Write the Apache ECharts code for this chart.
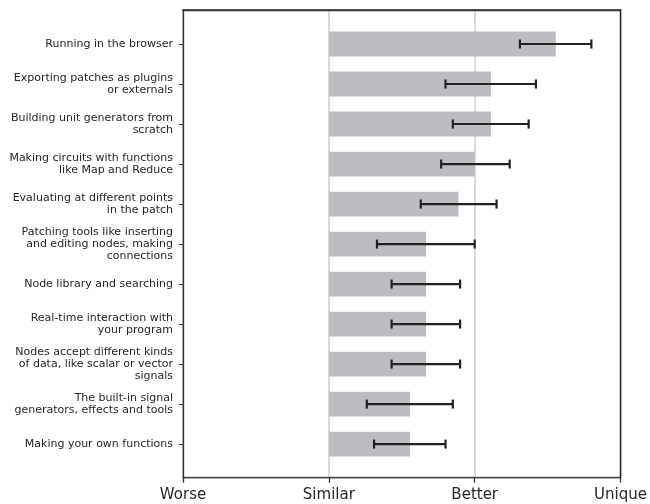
<!DOCTYPE html>
<html>
<head>
<meta charset="utf-8">
<script src="https://cdn.jsdelivr.net/npm/echarts@6/dist/echarts.min.js"></script>
<style>html,body{margin:0;padding:0;background:#fff}#c{width:650px;height:504px}</style>
</head>
<body>
<div id="c"></div>
<script>
const categories = [
  "Running in the browser",
  "Exporting patches as plugins\nor externals",
  "Building unit generators from\nscratch",
  "Making circuits with functions\nlike Map and Reduce",
  "Evaluating at different points\nin the patch",
  "Patching tools like inserting\nand editing nodes, making\nconnections",
  "Node library and searching",
  "Real-time interaction with\nyour program",
  "Nodes accept different kinds\nof data, like scalar or vector\nsignals",
  "The built-in signal\ngenerators, effects and tools",
  "Making your own functions"
];
const values  = [1.556, 1.111, 1.111, 1.0, 0.889, 0.667, 0.667, 0.667, 0.667, 0.556, 0.556];
const errLow  = [1.31, 0.80, 0.85, 0.77, 0.63, 0.33, 0.43, 0.43, 0.43, 0.26, 0.31];
const errHigh = [1.80, 1.42, 1.37, 1.24, 1.15, 1.00, 0.90, 0.90, 0.90, 0.85, 0.80];
const xTickLabels = ["Worse", "Similar", "Better", "Unique"];

const chart = echarts.init(document.getElementById('c'), null, {renderer: 'canvas'});
const font = 'DejaVu Sans';
const barData = values.map((v, i) => [i, v]);
const errData = values.map((v, i) => [i, errLow[i], errHigh[i]]);

chart.setOption({
  animation: false,
  grid: {left: 183, right: 27, top: 10, bottom: 26.3, show: true, borderColor: '#333', borderWidth: 1.3, backgroundColor: 'transparent'},
  xAxis: [{
    type: 'value', min: -1, max: 2, interval: 1,
    axisLine: {show: true, onZero: false, lineStyle: {color: '#4d4d4d', width: 1.3}},
    axisTick: {show: true, length: 5, lineStyle: {color: '#333', width: 1.3}},
    axisLabel: {fontFamily: font, fontSize: 15, color: '#262626', margin: 10,
      formatter: v => xTickLabels[Math.round(v) + 1] || ''},
    splitLine: {show: true, lineStyle: {color: '#cccccc', width: 1.5}}
  }, {
    type: 'value', min: -1, max: 2, position: 'top', z: 10,
    axisLine: {show: true, onZero: false, lineStyle: {color: '#333', width: 1.3}},
    axisTick: {show: false}, axisLabel: {show: false}, splitLine: {show: false}
  }],
  yAxis: [{
    type: 'value', min: -0.85, max: 10.84, inverse: true,
    axisLine: {show: true, onZero: false, lineStyle: {color: '#333', width: 1.3}},
    axisTick: {show: true, length: 4, customValues: categories.map((c, i) => i), lineStyle: {color: '#333', width: 1}},
    axisLabel: {fontFamily: font, fontSize: 11, color: '#262626', margin: 10, lineHeight: 12, align: 'right',
      customValues: categories.map((c, i) => i),
      formatter: v => categories[Math.round(v)] || ''},
    splitLine: {show: false}
  }, {
    type: 'value', min: -0.85, max: 10.84, inverse: true, position: 'right', z: 10,
    axisLine: {show: true, onZero: false, lineStyle: {color: '#222', width: 1.3}},
    axisTick: {show: false}, axisLabel: {show: false}, splitLine: {show: false}
  }],
  series: [{
    type: 'custom',
    data: barData,
    encode: {x: 1, y: 0},
    renderItem: (params, api) => {
      const i = api.value(0), v = api.value(1);
      const p0 = api.coord([0, i]);
      const p1 = api.coord([v, i]);
      const h = api.size([0, 0.62])[1];
      return {type: 'rect', shape: {x: p0[0], y: p0[1] - h / 2, width: p1[0] - p0[0], height: h},
        style: {fill: '#bcbdc1'}};
    }
  }, {
    type: 'custom',
    data: errData,
    encode: {x: [1, 2], y: 0},
    z: 5,
    renderItem: (params, api) => {
      const i = api.value(0);
      const a = api.coord([api.value(1), i]);
      const b = api.coord([api.value(2), i]);
      const c = 4.5;
      const st = {stroke: '#222', lineWidth: 2.2};
      return {type: 'group', children: [
        {type: 'line', shape: {x1: a[0], y1: a[1], x2: b[0], y2: b[1]}, style: st},
        {type: 'line', shape: {x1: a[0], y1: a[1] - c, x2: a[0], y2: a[1] + c}, style: st},
        {type: 'line', shape: {x1: b[0], y1: b[1] - c, x2: b[0], y2: b[1] + c}, style: st}
      ]};
    }
  }]
});
</script>
</body>
</html>
